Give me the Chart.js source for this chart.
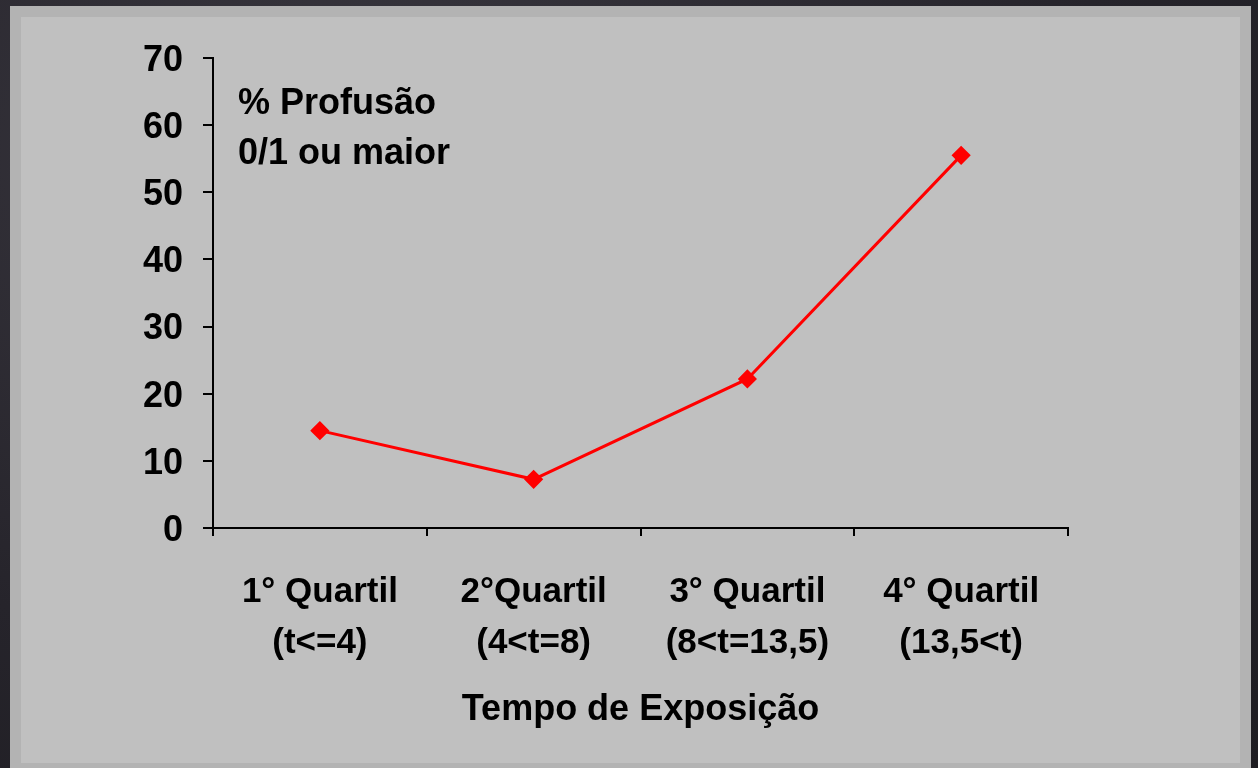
<!DOCTYPE html>
<html>
<head>
<meta charset="utf-8">
<script src="https://cdn.jsdelivr.net/npm/chart.js@4"></script>
<style>
  html, body { margin: 0; padding: 0; }
  body {
    width: 1258px; height: 768px; overflow: hidden; position: relative;
    background: radial-gradient(ellipse at 30% 20%, #3a3840 0%, #26242b 60%, #1e1d22 100%);
  }
  #panel {
    position: absolute; left: 10px; top: 6px; width: 1219px; height: 746px;
    background: #c0c0c0; border: 11px solid #b3b3b3; border-bottom-width: 5px;
  }
  #chart { position: absolute; left: 0; top: 0; }
</style>
</head>
<body>
<div id="panel"></div>
<canvas id="chart" width="1258" height="768"></canvas>
<script>
const categories = [
    ['1° Quartil', '(t<=4)'],
    ['2°Quartil', '(4<t=8)'],
    ['3° Quartil', '(8<t=13,5)'],
    ['4° Quartil', '(13,5<t)']
];
const profusao = [14.5, 7.25, 22.2, 55.5];
const noteLines = ['% Profusão', '0/1 ou maior'];
const xTitle = 'Tempo de Exposição';

const ctx = document.getElementById('chart');

const notePlugin = {
    id: 'note',
    afterDraw(chart) {
        const c = chart.ctx;
        const area = chart.chartArea;
        c.save();
        c.font = 'bold 36px "Liberation Sans", Arial, sans-serif';
        c.fillStyle = '#000';
        c.textBaseline = 'middle';
        c.textAlign = 'left';
        noteLines.forEach((t, i) => c.fillText(t, area.left + 25, area.top + 46 + i * 50));
        c.restore();
    }
};

new Chart(ctx, {
    type: 'line',
    data: {
        labels: categories,
        datasets: [{
            data: profusao,
            borderColor: '#ff0000',
            backgroundColor: '#ff0000',
            borderWidth: 3,
            pointStyle: 'rectRot',
            pointRadius: 7.5,
            pointHoverRadius: 7.5,
            tension: 0
        }]
    },
    options: {
        responsive: false,
        animation: false,
        layout: {
            padding: { left: 0, top: 58, right: 190, bottom: 0 }
        },
        scales: {
            y: {
                min: 0,
                max: 70,
                afterFit(scale) { scale.width = 213; },
                border: { display: true, color: '#000', width: 2 },
                grid: {
                    drawOnChartArea: false,
                    color: '#000',
                    lineWidth: 2,
                    tickLength: 10
                },
                ticks: {
                    stepSize: 10,
                    color: '#000',
                    padding: 20,
                    labelOffset: 3,
                    font: { family: '"Liberation Sans", Arial, sans-serif', size: 36, weight: 'bold' }
                }
            },
            x: {
                offset: true,
                afterFit(scale) { scale.height = 240; },
                border: { display: true, color: '#000', width: 2 },
                grid: {
                    offset: true,
                    drawOnChartArea: false,
                    color: '#000',
                    lineWidth: 2,
                    tickLength: 8
                },
                ticks: {
                    color: '#000',
                    padding: 31,
                    maxRotation: 0,
                    font: { family: '"Liberation Sans", Arial, sans-serif', size: 35, weight: 'bold', lineHeight: 1.45 }
                },
                title: {
                    display: true,
                    text: xTitle,
                    color: '#000',
                    padding: { top: 0, bottom: 36 },
                    font: { family: '"Liberation Sans", Arial, sans-serif', size: 36, weight: 'bold' }
                }
            }
        },
        plugins: {
            legend: { display: false },
            tooltip: { enabled: false }
        }
    },
    plugins: [notePlugin]
});
</script>
</body>
</html>
